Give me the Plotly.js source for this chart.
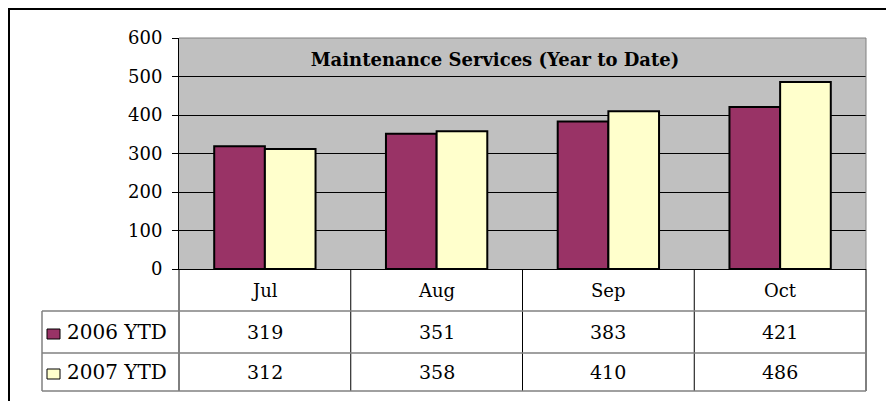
<!DOCTYPE html>
<html>
<head>
<meta charset="utf-8">
<script src="https://cdn.plot.ly/plotly-3.0.1.min.js"></script>
<style>
  html, body { margin: 0; padding: 0; background: #fff; }
  #chart { width: 886px; height: 401px; }
</style>
</head>
<body>
<div id="chart"></div>
<script>
// data
const months = ['Jul', 'Aug', 'Sep', 'Oct'];
const seriesNames = ['2006 YTD', '2007 YTD'];
const ytd2006 = [319, 351, 383, 421];
const ytd2007 = [312, 358, 410, 486];
const seriesColors = ['#993366', '#FFFFCC'];

const W = 886, H = 401;
const M = { l: 179, r: 20, t: 38, b: 132 };
const plotW = W - M.l - M.r;
const plotH = H - M.t - M.b;
const FONT = 'DejaVu Serif, Liberation Serif, serif';

// pixel -> paper helpers (table sits under the plot area)
function px(p) { return (p - M.l) / plotW; }
function py(p) { return (H - M.b - p) / plotH; }
// category boundary -> paper x
function catEdge(i) { return i / months.length; }

const rowLines = [311, 353, 391];
const rowMid = [332, 372];
const legendLeft = 42;
const values = [ytd2006, ytd2007];

const traces = values.map((v, k) => ({
  type: 'bar',
  name: seriesNames[k],
  x: months,
  y: v,
  marker: { color: seriesColors[k], line: { color: '#000', width: 2 } },
  hoverinfo: 'x+y+name'
}));

const shapes = [];
// outer chart border (top and left visible)
shapes.push({ type: 'line', xref: 'paper', yref: 'paper', x0: px(8), x1: px(890), y0: py(9), y1: py(9), line: { color: '#000', width: 2 } });
shapes.push({ type: 'line', xref: 'paper', yref: 'paper', x0: px(9), x1: px(9), y0: py(8), y1: py(410), line: { color: '#000', width: 2 } });
// plot area border top/right
shapes.push({ type: 'line', xref: 'paper', yref: 'paper', x0: 0, x1: 1, y0: 1, y1: 1, line: { color: '#808080', width: 1 } });
shapes.push({ type: 'line', xref: 'paper', yref: 'paper', x0: 1, x1: 1, y0: 0, y1: 1, line: { color: '#808080', width: 1 } });
// table: vertical column lines
for (let i = 0; i <= months.length; i++) {
  shapes.push({ type: 'line', xref: 'paper', yref: 'paper', x0: catEdge(i), x1: catEdge(i), y0: 0, y1: py(rowLines[2]), line: { color: '#000', width: 1 } });
}
// table: horizontal row lines
rowLines.forEach(r => {
  shapes.push({ type: 'line', xref: 'paper', yref: 'paper', x0: px(legendLeft), x1: 1, y0: py(r), y1: py(r), line: { color: '#808080', width: 1.5 } });
});
// legend column left edge
shapes.push({ type: 'line', xref: 'paper', yref: 'paper', x0: px(legendLeft), x1: px(legendLeft), y0: py(rowLines[0]), y1: py(rowLines[2]), line: { color: '#808080', width: 1.5 } });
// legend keys
rowMid.forEach((m, k) => {
  shapes.push({ type: 'rect', xref: 'paper', yref: 'paper', x0: px(47), x1: px(60), y0: py(m - 3), y1: py(m + 10 - 3), fillcolor: seriesColors[k], line: { color: '#000', width: 1 } });
});

const annotations = [];
months.forEach((mo, i) => {
  annotations.push({ xref: 'x', yref: 'paper', x: mo, y: py(290), text: mo, showarrow: false, yanchor: 'middle', font: { family: FONT, size: 18, color: '#000' } });
  values.forEach((v, k) => {
    annotations.push({ xref: 'x', yref: 'paper', x: mo, y: py(rowMid[k]), text: String(v[i]), showarrow: false, yanchor: 'middle', font: { family: FONT, size: 19, color: '#000' } });
  });
});
seriesNames.forEach((n, k) => {
  annotations.push({ xref: 'paper', yref: 'paper', x: px(65), y: py(rowMid[k]), text: n, showarrow: false, xanchor: 'left', yanchor: 'middle', font: { family: FONT, size: 20, color: '#000' } });
});

const layout = {
  width: W,
  height: H,
  margin: M,
  paper_bgcolor: '#fff',
  plot_bgcolor: '#C0C0C0',
  showlegend: false,
  barmode: 'group',
  bargap: 0.41,
  bargroupgap: 0,
  title: {
    text: 'Maintenance Services (Year to Date)',
    font: { family: FONT, size: 18, color: '#000', weight: 'bold' },
    xref: 'paper', x: px(495), xanchor: 'center',
    yref: 'paper', y: py(60), yanchor: 'middle'
  },
  xaxis: {
    type: 'category',
    range: [-0.5, months.length - 0.5],
    showticklabels: false,
    ticks: '',
    showgrid: false,
    showline: true,
    linecolor: '#000',
    linewidth: 1,
    fixedrange: true
  },
  yaxis: {
    range: [0, 600],
    dtick: 100,
    showgrid: true,
    gridcolor: '#000',
    gridwidth: 1,
    zeroline: false,
    showline: true,
    linecolor: '#000',
    linewidth: 1,
    ticks: 'outside',
    ticklen: 6,
    tickcolor: '#000',
    ticklabelstandoff: 6,
    tickfont: { family: FONT, size: 18, color: '#000' },
    fixedrange: true
  },
  shapes,
  annotations
};

Plotly.newPlot('chart', traces, layout, { displayModeBar: false, staticPlot: true });
</script>
</body>
</html>
